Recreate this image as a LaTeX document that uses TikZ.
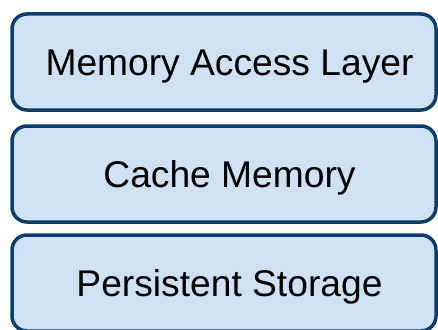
\documentclass[tikz,border=0pt]{standalone}
\usepackage{fontspec}
\setmainfont{Liberation Sans}
\definecolor{layeredge}{RGB}{12,60,108}
\definecolor{layerfill}{RGB}{207,225,243}
\tikzset{
    layer/.style={draw=layeredge, fill=layerfill, line width=3.5pt, rounded corners=15pt,
        minimum width=424pt, minimum height=96pt, inner sep=0pt,
        text height=27pt, text depth=0pt,
        execute at begin node=\hspace*{11pt},
        font=\fontsize{37.2}{40}\selectfont}
}

\begin{document}
\begin{tikzpicture}[x=1pt,y=-1pt]
    \useasboundingbox (0,0) rectangle (438,329);

    % Layers, top to bottom
    \node[layer] (access) at (224,62) {Memory Access Layer};
    \node[layer] (cache) at (224,174) {Cache Memory};
    \node[layer] (storage) at (224,283) {Persistent Storage};
\end{tikzpicture}
\end{document}
